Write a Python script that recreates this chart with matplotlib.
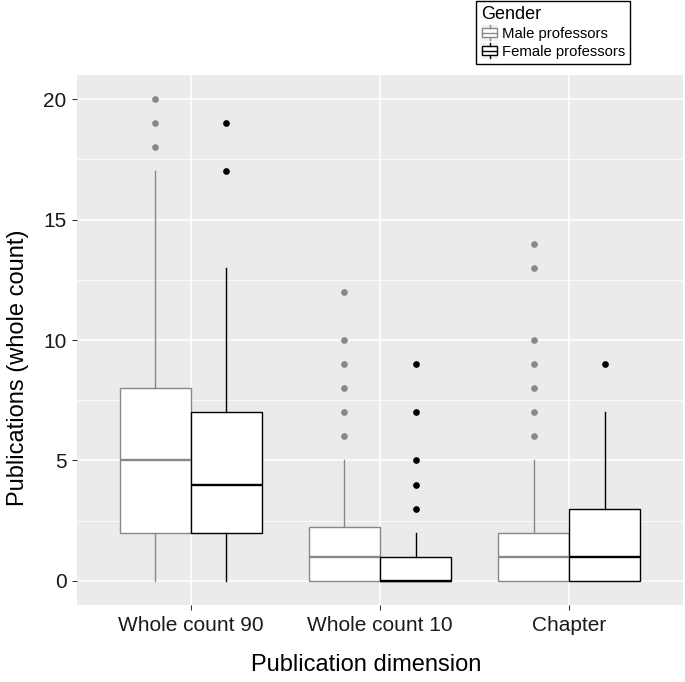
import matplotlib
matplotlib.use('Agg')
import matplotlib.pyplot as plt
from matplotlib.patches import Rectangle
from matplotlib.lines import Line2D
from matplotlib.legend_handler import HandlerBase

plt.rcParams['font.family'] = ['Liberation Sans', 'DejaVu Sans']

categories = ['Whole count 90', 'Whole count 10', 'Chapter']
groups = ['Male professors', 'Female professors']
group_colors = ['#888888', '#000000']

# five-number summaries: [whislo, q1, med, q3, whishi]
male_stats = [[0, 2, 5, 8, 17], [0, 0, 1, 2.25, 5], [0, 0, 1, 2, 5]]
female_stats = [[0, 2, 4, 7, 13], [0, 0, 0, 1, 2], [0, 0, 1, 3, 7]]
male_outliers = [[18, 19, 20], [6, 7, 8, 9, 10, 12], [6, 7, 8, 9, 10, 13, 14]]
female_outliers = [[17, 19], [3, 4, 5, 7, 9], [9]]

y_ticks = [0, 5, 10, 15, 20]
y_minor = [2.5, 7.5, 12.5, 17.5]


def to_bxp(stats, fliers):
    out = []
    for (lo, q1, med, q3, hi), fl in zip(stats, fliers):
        out.append(dict(whislo=lo, q1=q1, med=med, q3=q3, whishi=hi, fliers=fl))
    return out


class BoxKeyHandler(HandlerBase):
    """small boxplot glyph like ggplot's legend key"""
    def __init__(self, color):
        super().__init__()
        self.color = color

    def create_artists(self, legend, orig_handle, xdescent, ydescent, width, height, fontsize, trans):
        x0, y0 = -xdescent, -ydescent
        art = [Rectangle((x0, y0), width, height, facecolor='#F2F2F2', edgecolor='none', transform=trans)]
        cx = x0 + width / 2
        w = width * 0.85
        h = height
        art.append(Rectangle((cx - w / 2, y0 + h * 0.22), w, h * 0.56, facecolor='white',
                             edgecolor=self.color, linewidth=1.0, transform=trans))
        art.append(Line2D([cx - w / 2, cx + w / 2], [y0 + h / 2] * 2, color=self.color, lw=1.0, transform=trans))
        art.append(Line2D([cx, cx], [y0 + h * 0.04, y0 + h * 0.22], color=self.color, lw=1.0, transform=trans))
        art.append(Line2D([cx, cx], [y0 + h * 0.78, y0 + h * 0.96], color=self.color, lw=1.0, transform=trans))
        return art


fig = plt.figure(figsize=(6.85, 6.82), dpi=100)
ax = fig.add_axes([77 / 685, 77 / 682, 606 / 685, 530 / 682])
ax.set_facecolor('#EBEBEB')

for gi, (stats, fliers, col) in enumerate([(male_stats, male_outliers, group_colors[0]),
                                           (female_stats, female_outliers, group_colors[1])]):
    offset = -0.1875 if gi == 0 else 0.1875
    pos = [i + 1 + offset for i in range(len(categories))]
    ax.bxp(to_bxp(stats, fliers), positions=pos, widths=0.375, patch_artist=True,
           showcaps=False, manage_ticks=False,
           boxprops=dict(facecolor='white', edgecolor=col, linewidth=1.0),
           whiskerprops=dict(color=col, linewidth=1.0),
           medianprops=dict(color=col, linewidth=1.7),
           flierprops=dict(marker='o', markerfacecolor=col, markeredgecolor=col, markersize=3.8),
           zorder=3)

ax.set_xlim(0.4, 3.6)
ax.set_ylim(-1, 21)
ax.set_xticks(range(1, len(categories) + 1))
ax.set_xticklabels(categories)
ax.set_yticks(y_ticks)
ax.set_yticks(y_minor, minor=True)
ax.grid(True, which='major', color='white', linewidth=1.1, zorder=0)
ax.grid(True, which='minor', axis='y', color='white', linewidth=0.55, zorder=0)
ax.set_axisbelow(True)
for s in ax.spines.values():
    s.set_visible(False)
ax.tick_params(axis='both', which='major', length=3.6, width=0.8, color='#333333',
               labelsize=15, labelcolor='#1a1a1a', pad=4)
ax.tick_params(axis='y', which='minor', length=0)

# axis titles placed where the reference has them
fig.text(366 / 685, 1 - 665 / 682, 'Publication dimension', fontsize=17, ha='center', va='center')
fig.text(18 / 685, 1 - 368 / 682, 'Publications (whole count)', fontsize=17, rotation=90,
         ha='center', va='center')

h_male = Rectangle((0, 0), 1, 1)
h_female = Rectangle((0, 0), 1, 1)
leg = fig.legend([h_male, h_female], groups, title='Gender',
                 handler_map={h_male: BoxKeyHandler(group_colors[0]),
                              h_female: BoxKeyHandler(group_colors[1])},
                 loc='upper left', bbox_to_anchor=(476 / 685, 0.999),
                 fontsize=10.7, title_fontsize=13, alignment='left',
                 frameon=True, fancybox=False, edgecolor='black', framealpha=1,
                 handlelength=1.15, handleheight=1.3, handletextpad=0.25, labelspacing=0.12,
                 borderpad=0.35, borderaxespad=0)
leg.get_frame().set_linewidth(1.0)

fig.savefig('out.png', dpi=100)
